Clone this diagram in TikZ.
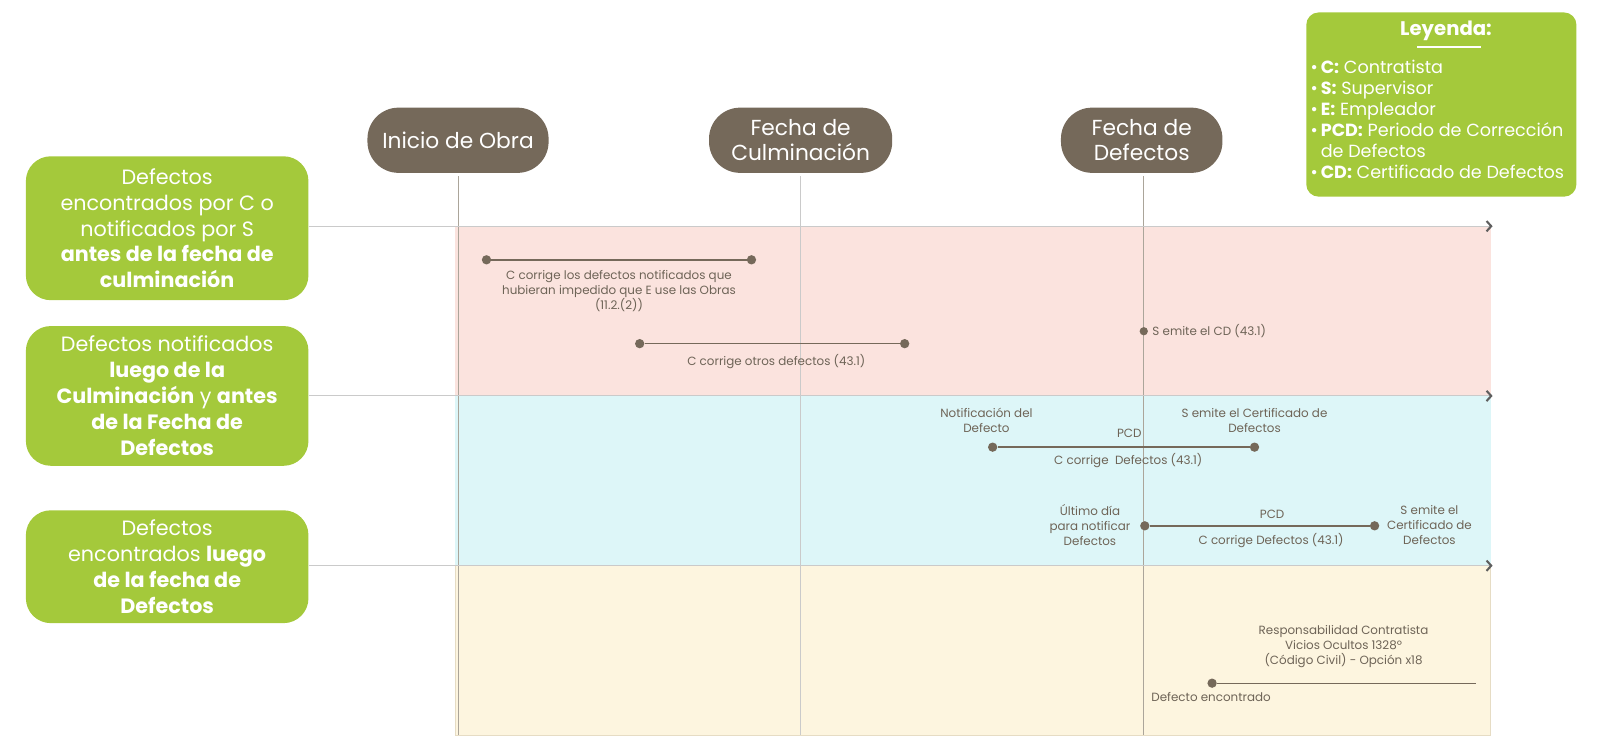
\documentclass[tikz,border=0pt]{standalone}
\usepackage{fontspec}
\setmainfont{Poppins}
\usetikzlibrary{arrows.meta, positioning}
\definecolor{verde}{HTML}{A4C93B}
\definecolor{cafe}{HTML}{75695A}
\definecolor{texto}{HTML}{6E6457}
\definecolor{rosa}{HTML}{FBE3DE}
\definecolor{celeste}{HTML}{DDF6F8}
\definecolor{crema}{HTML}{FDF5DF}
\definecolor{borde}{HTML}{E6DCC4}
\definecolor{gris}{HTML}{CACACA}
\definecolor{vertical}{HTML}{ABA59A}
\definecolor{oscuro}{HTML}{5E5E5E}
\tikzset{
	fila/.style={fill=verde, rounded corners=24pt, text=white, align=center, font=\fontsize{20}{25}\selectfont, minimum width=273pt, inner sep=0pt},
	hito/.style={fill=cafe, rounded corners=30pt, text=white, align=center, font=\fontsize{21}{24}\selectfont, minimum height=63pt, inner sep=0pt},
	punto/.style={circle, fill=cafe, inner sep=0pt, minimum size=9pt},
	evento/.style={draw=cafe, line width=1.5pt},
	nota/.style={text=texto, align=center, font=\fontsize{11.5}{14.5}\selectfont, inner sep=0pt},
	guia/.style={draw=gris, line width=0.9pt, -{Straight Barb[length=4.5pt, width=10pt, color=oscuro, line width=2pt]}},
	eje/.style={draw=vertical, line width=0.8pt}
}

\begin{document}
\begin{tikzpicture}[x=1pt, y=-1pt]
	
	\useasboundingbox (0,0) rectangle (1568,718);
	
	% franjas
	\fill[rosa] (440,218) rectangle (1440,382);
	\fill[celeste] (440,382) rectangle (1440,546);
	\filldraw[fill=crema, draw=borde, line width=0.6pt] (440,546) rectangle (1440,710);
	
	% hitos
	\node[hito, minimum width=175pt] (inicio) at (442.5,135.5) {Inicio de Obra};
	\node[hito, minimum width=177pt] (culm) at (773.5,135.5) {Fecha de\\Culminación};
	\node[hito, minimum width=156pt] (fdef) at (1103,135.5) {Fecha de\\Defectos};
	
	\coordinate (fondo) at (0,710);
	\draw[eje] ([yshift=-3pt]inicio.south) -- (inicio.south |- fondo);
	\draw[eje, draw=gris] ([yshift=-3pt]culm.south) -- (culm.south |- fondo);
	\draw[eje] ([xshift=2pt, yshift=-3pt]fdef.south) -- ([xshift=2pt]fdef.south |- fondo);
	
	% filas
	\node[fila, minimum height=139pt] (fila1) at (161.5,220.5) {Defectos\\encontrados por C o\\notificados por S\\\textbf{antes de la fecha de}\\\textbf{culminación}};
	\node[fila, minimum height=135pt] (fila2) at (161.5,382.5) {Defectos notificados\\\textbf{luego de la}\\\textbf{Culminación} y \textbf{antes}\\\textbf{de la Fecha de}\\\textbf{Defectos}};
	\node[fila, minimum height=109pt] (fila3) at (161.5,547.5) {Defectos\\encontrados \textbf{luego}\\\textbf{de la fecha de}\\\textbf{Defectos}};
	
	\coordinate (fin) at (1442,0);
	\draw[guia] ([yshift=2pt]fila1.east) -- ([yshift=2pt]fila1.east -| fin);
	\draw[guia] (fila2.east) -- (fila2.east -| fin);
	\draw[guia] ([yshift=1pt]fila3.east) -- ([yshift=1pt]fila3.east -| fin);
	
	% antes de la culminacion
	\node[punto] (a1) at (470,251) {};
	\node[punto] (a2) at (726,251) {};
	\draw[evento] (a1) -- (a2);
	\node[nota] (ta) at (598,281) {C corrige los defectos notificados que\\hubieran impedido que E use las Obras\\(11.2.(2))};
	
	\node[punto] (b1) at (618,332) {};
	\node[punto] (b2) at (874,332) {};
	\draw[evento] (b1) -- (b2);
	\node[nota] (tb) at (750,349) {C corrige otros defectos (43.1)};
	
	\node[punto, minimum size=8pt] (cd) at (1105,320) {};
	\node[nota, right=4pt of cd] (tcd) {S emite el CD (43.1)};
	
	% luego de la culminacion
	\node[punto] (c1) at (959,432) {};
	\node[punto] (c2) at (1212,432) {};
	\draw[evento] (c1) -- (c2);
	\node[nota] (tc1) at (953,406) {Notificación del\\Defecto};
	\node[nota] (tc2) at (1212,406) {S emite el Certificado de\\Defectos};
	\node[nota] (pcd1) at (1091,419) {PCD};
	\node[nota] (tc3) at (1090,445) {C corrige\ \ Defectos (43.1)};
	
	\node[punto] (d1) at (1106,508) {};
	\node[punto] (d2) at (1328,508) {};
	\draw[evento] (d1) -- (d2);
	\node[nota] (td1) at (1053,507) {Último día\\para notificar\\Defectos};
	\node[nota] (td2) at (1381,507) {S emite el\\Certificado de\\Defectos};
	\node[nota] (pcd2) at (1229,497) {PCD};
	\node[nota] (td3) at (1228,522) {C corrige Defectos (43.1)};
	
	% luego de la fecha de defectos
	\node[punto] (e1) at (1171,660) {};
	\coordinate (e2) at (1426,660);
	\draw[evento, line width=1pt] (e1) -- (e2);
	\node[nota] (te1) at (1298,625) {Responsabilidad Contratista\\Vicios Ocultos 1328º\\(Código Civil) - Opción x18};
	\node[nota] (te2) at (1170,673) {Defecto encontrado};
	
	% leyenda
	\node[fill=verde, rounded corners=12pt, minimum width=261pt, minimum height=178pt, inner sep=0pt] (leyenda) at (1392.5,101) {};
	\node[text=white, font=\fontsize{19}{22}\selectfont\bfseries, inner sep=0pt] (titulo) at (1397,30) {Leyenda:};
	\draw[white, line width=1.8pt] ([xshift=-28pt, yshift=-6pt]titulo.south) -- ([xshift=34pt, yshift=-6pt]titulo.south);
	\node[text=white, align=left, anchor=north west, font=\fontsize{17}{20.3}\selectfont, inner sep=0pt] (items) at (1266,58) {%
		•\,\textbf{C:} Contratista\\
		•\,\textbf{S:} Supervisor\\
		•\,\textbf{E:} Empleador\\
		•\,\textbf{PCD:} Periodo de Corrección\\
		\hphantom{•\,}de Defectos\\
		•\,\textbf{CD:} Certificado de Defectos};
	
\end{tikzpicture}
\end{document}
